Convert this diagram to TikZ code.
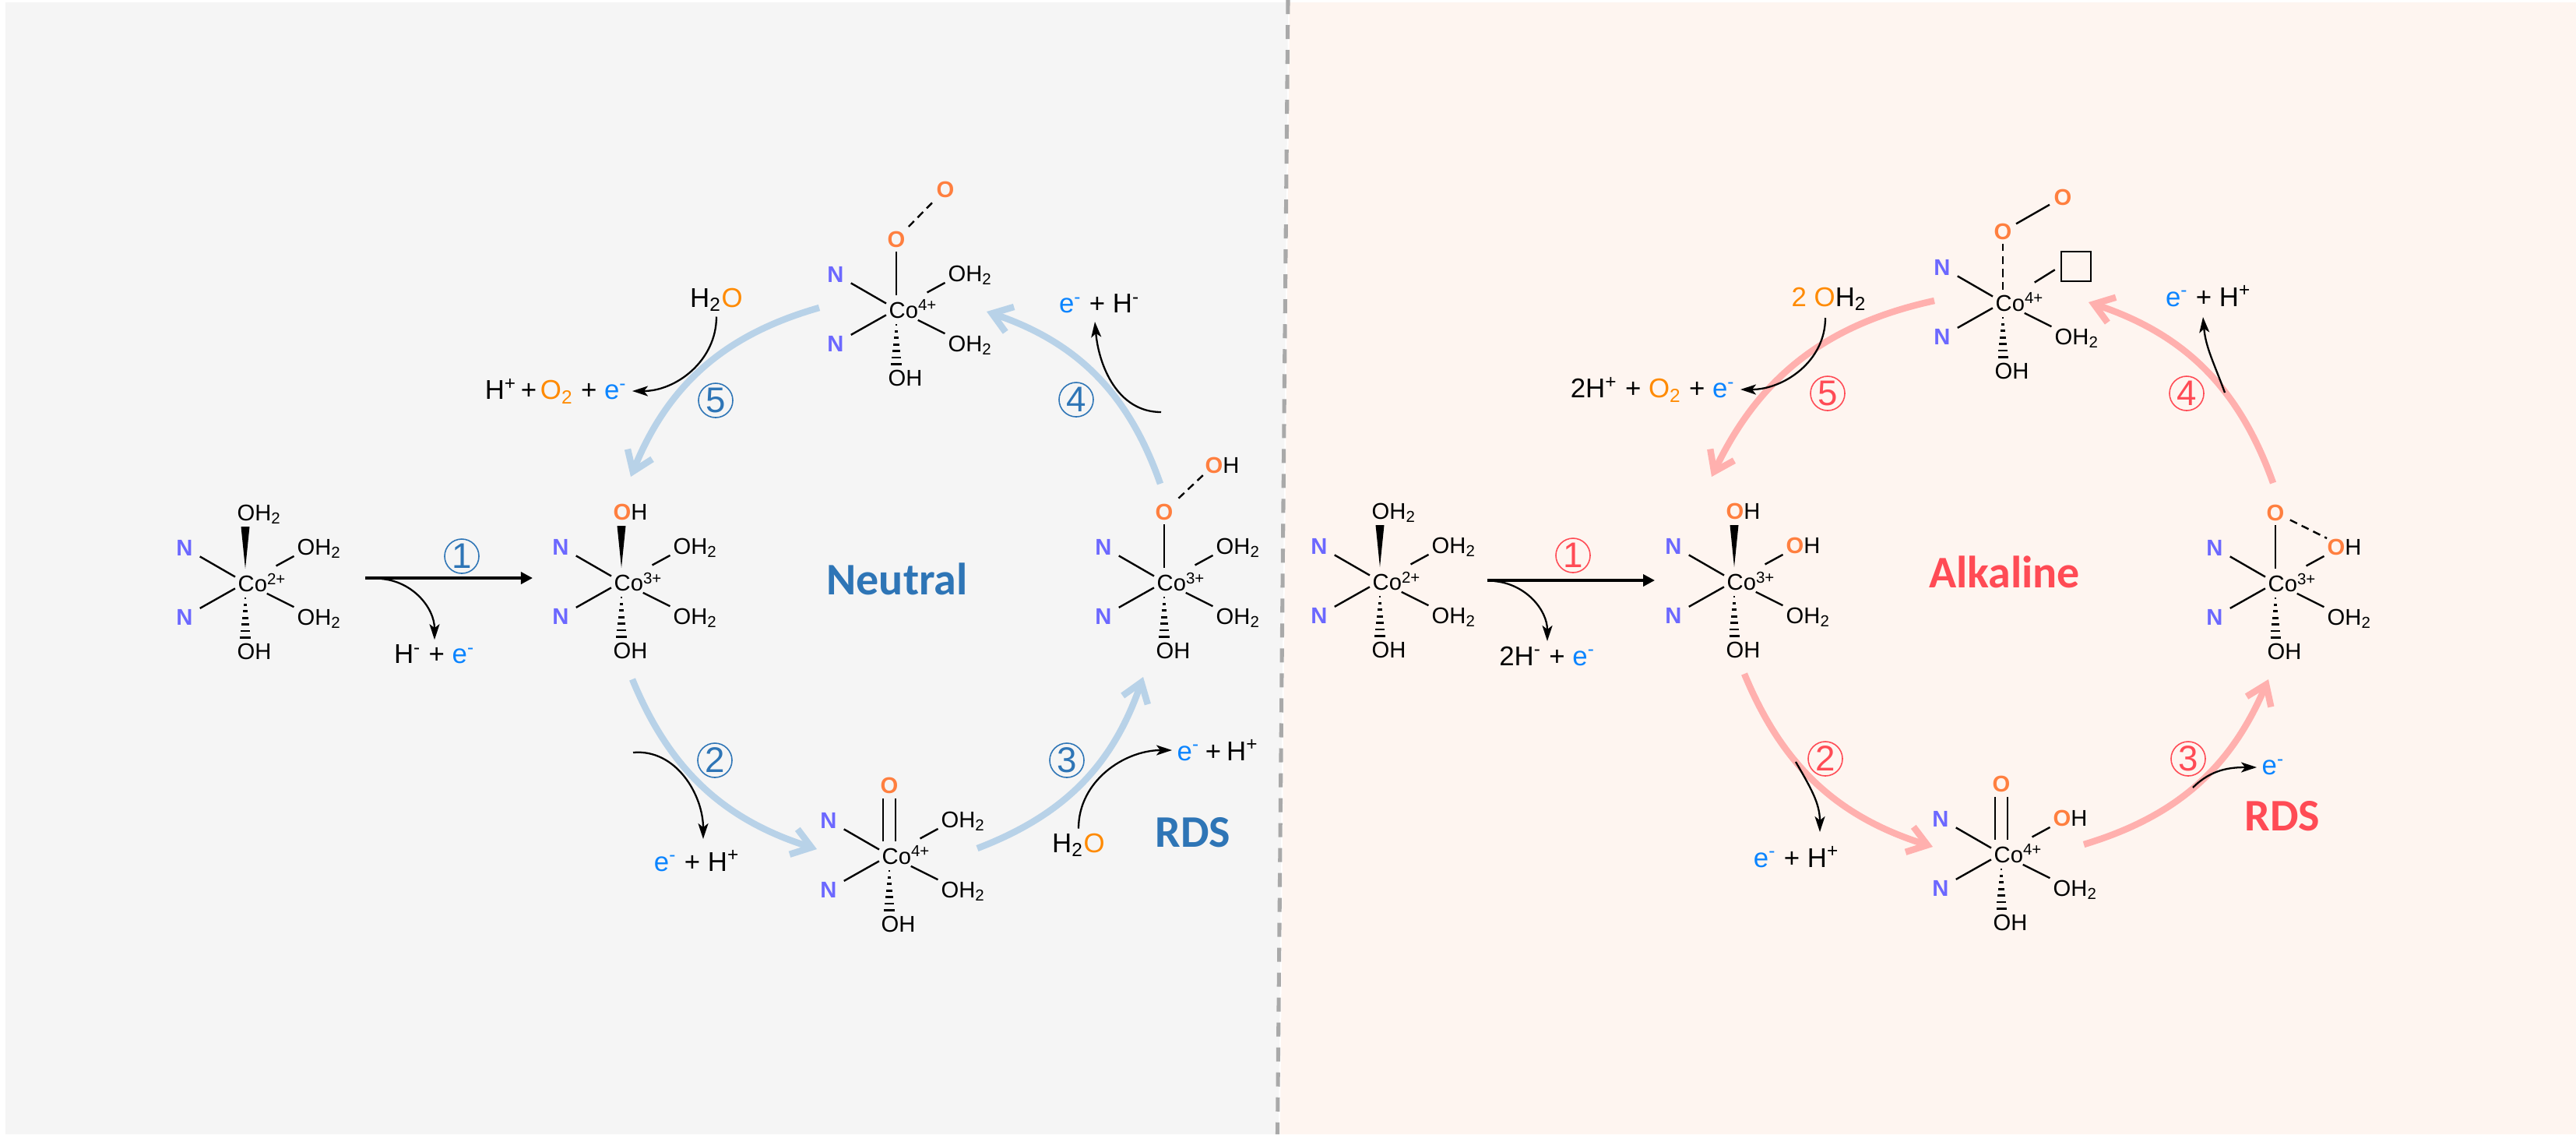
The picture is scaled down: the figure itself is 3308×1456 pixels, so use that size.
\documentclass[tikz,border=0pt]{standalone}
\usepackage{fontspec}
\setmainfont{Liberation Sans}
\newfontfamily\headfont{Carlito}
\usetikzlibrary{arrows.meta,calc}

\definecolor{leftbg}{HTML}{F5F5F5}
\definecolor{rightbg}{HTML}{FEF5F0}
\definecolor{divider}{HTML}{A9A9A9}
\definecolor{bluearc}{HTML}{B8D2E8}
\definecolor{redarc}{HTML}{FFB0AE}
\definecolor{bluehead}{HTML}{2E75B6}
\definecolor{redhead}{HTML}{FF4B55}
\definecolor{nitro}{HTML}{6C68FF}
\definecolor{oxy}{HTML}{FF7F3F}
\definecolor{water}{HTML}{FF8A00}
\definecolor{elec}{HTML}{0A84FF}

\newcommand{\ox}{\textcolor{oxy}{\textbf{O}}}
\newcommand{\wo}{\textcolor{water}{O}}
\newcommand{\el}{\textcolor{elec}{e\textsuperscript{-}}}

\tikzset{
    bond/.style={line width=0.68pt},
    dashbond/.style={line width=0.68pt,dash pattern=on 0.1cm off 0.065cm},
    hatchbar/.style={line width=0.8pt},
    atom/.style={inner sep=0pt,font=\fontsize{8.3}{10}\selectfont},
    nitrogen/.style={inner sep=0.085cm,text=nitro,font=\fontsize{8.3}{10}\selectfont\bfseries},
    oxtop/.style={inner sep=0.05cm,font=\fontsize{8.3}{10}\selectfont},
    species/.style={inner sep=0.06cm,font=\fontsize{9.9}{12}\selectfont},
    cyclearc/.style={line width=2.4pt,-{Straight Barb[length=0.24cm,width=0.34cm]}},
    sidearrow/.style={line width=0.65pt,-{Stealth[length=0.2cm,width=0.13cm,inset=0.05cm]}},
    mainarrow/.style={line width=1pt,-{Triangle[length=0.15cm,width=0.15cm]}},
    headline/.style={font=\headfont\bfseries\fontsize{16.5}{20}\selectfont},
    ringmark/.style={circle,draw,line width=0.45pt,inner sep=0pt,minimum size=0.44cm,font=\fontsize{13}{14}\selectfont},
}

% Co centre with N, N, OH2 and OH around it, #5 is the upper right ligand
\newcommand{\cocomplex}[5]{
    \begin{scope}[shift={(#2,#3)}]
        \coordinate (#1c) at (-8,0);
        \node[atom,anchor=west] (#1co) at (-18,0) {Co\textsuperscript{#4}};
        \node[nitrogen] (#1nu) at (-86,-45) {N};
        \node[nitrogen] (#1nd) at (-86,44) {N};
        \node[atom,anchor=base west] (#1ur) at (58,-36) {#5};
        \node[atom,anchor=north west] (#1dr) at (58,33) {OH\textsubscript{2}};
        \node[atom,anchor=north west] (#1bt) at (-19,77) {OH};
        \draw[bond,shorten <=0.15cm] (#1c) -- (#1nu);
        \draw[bond,shorten <=0.15cm] (#1c) -- (#1nd);
        \draw[bond,shorten <=0.45cm,shorten >=0.04cm] (#1c) -- (#1ur.base west);
        \draw[bond,shorten <=0.31cm,shorten >=0.04cm] (#1c) -- (#1dr.north west);
        \foreach \i in {0,...,6} {
            \draw[hatchbar] ({-8-1-0.92*\i},{20+8.4*\i}) -- ({-8+1+0.92*\i},{20+8.4*\i});
        }
    \end{scope}
}
% wedge bond with a ligand on top
\newcommand{\wedgetop}[2]{
    \node[atom,anchor=base west] (#1tp) at ($(#1c)+(-11,-80)$) {#2};
    \fill ($(#1c)+(0,-18)$) -- ($(#1c)+(-5.5,-72)$) -- ($(#1c)+(5.5,-72)$) -- cycle;
}
% O on top, with a plain bond
\newcommand{\oxygentop}[1]{
    \node[oxtop] (#1tp) at ($(#1c)+(0,-90)$) {\ox};
    \draw[bond,shorten <=0.18cm] (#1c) -- (#1tp);
}
% O on top, with a double bond
\newcommand{\doubletop}[1]{
    \node[oxtop] (#1tp) at ($(#1c)+(0,-90)$) {\ox};
    \draw[bond] ($(#1c)+(-8,-18)$) -- ($(#1c)+(-8,-73)$);
    \draw[bond] ($(#1c)+(8,-18)$) -- ($(#1c)+(8,-73)$);
}

\begin{document}
\begin{tikzpicture}[x=0.01cm,y=-0.01cm]
    \useasboundingbox (0,0) rectangle (3308,1456);

    % the two panels and the line between them
    \fill[leftbg] (7,3) -- (1654,3) -- (1642,1456) -- (7,1456) -- cycle;
    \fill[rightbg] (1656,3) -- (3308,3) -- (3308,1456) -- (1644,1456) -- cycle;
    \coordinate (divtop) at (1654,0);
    \coordinate (divbot) at (1640.5,1456);
    \draw[divider,line width=1.45pt,dash pattern=on 0.18cm off 0.14cm] (divtop) -- (divbot);

    % cycle arcs, neutral
    \foreach \name/\ax/\ay/\bx/\by/\bend in {
        nb/1052/395/810/612/26, nc/812/872/1049/1090/25,
        nd/1255/1089/1468/869/25, ne/1490/621/1267/400/26} {
        \coordinate (\name a) at (\ax,\ay);
        \coordinate (\name b) at (\bx,\by);
        \draw[cyclearc,bluearc] (\name a) to[bend right=\bend] (\name b);
    }
    % cycle arcs, alkaline
    \foreach \name/\ax/\ay/\bx/\by/\bend in {
        ab/2484/386/2198/612/26, ac/2240/865/2482/1087/25,
        ad/2676/1084/2913/872/25, ae/2919/620/2682/388/26} {
        \coordinate (\name a) at (\ax,\ay);
        \coordinate (\name b) at (\bx,\by);
        \draw[cyclearc,redarc] (\name a) to[bend right=\bend] (\name b);
    }

    % neutral side
    \cocomplex{ma}{323}{748}{2+}{OH\textsubscript{2}}
    \wedgetop{ma}{OH\textsubscript{2}}
    \cocomplex{mb}{806}{747}{3+}{OH\textsubscript{2}}
    \wedgetop{mb}{\ox H}
    \cocomplex{mc}{1150}{1098}{4+}{OH\textsubscript{2}}
    \doubletop{mc}
    \cocomplex{md}{1503}{747}{3+}{OH\textsubscript{2}}
    \oxygentop{md}
    \node[atom,anchor=west] (mdo) at (1547,597) {\ox H};
    \draw[dashbond,shorten <=0.02cm,shorten >=0.01cm] (mdtp) -- (mdo.south west);
    \cocomplex{me}{1159}{397}{4+}{OH\textsubscript{2}}
    \oxygentop{me}
    \node[oxtop] (meo) at (1214,243) {\ox};
    \draw[dashbond] (metp) -- (meo);

    % alkaline side
    \cocomplex{mf}{1780}{746}{2+}{OH\textsubscript{2}}
    \wedgetop{mf}{OH\textsubscript{2}}
    \cocomplex{mg}{2235}{746}{3+}{\ox H}
    \wedgetop{mg}{\ox H}
    \cocomplex{mh}{2578}{1096}{4+}{\ox H}
    \doubletop{mh}
    \cocomplex{mi}{2930}{748}{3+}{\ox H}
    \oxygentop{mi}
    \draw[dashbond,shorten <=0.02cm] (mitp) -- (miur.north west);
    % top complex on the right has an empty site instead of a ligand
    \begin{scope}[shift={(2580,388)}]
        \coordinate (mjc) at (-8,0);
        \node[atom,anchor=west] (mjco) at (-18,0) {Co\textsuperscript{4+}};
        \node[nitrogen] (mjnu) at (-86,-45) {N};
        \node[nitrogen] (mjnd) at (-86,44) {N};
        \node[atom,anchor=north west] (mjdr) at (58,33) {OH\textsubscript{2}};
        \node[atom,anchor=north west] (mjbt) at (-19,77) {OH};
        \node[draw,line width=0.8pt,minimum width=0.38cm,minimum height=0.38cm,inner sep=0pt] (mjur) at (86,-46) {};
        \node[oxtop] (mjtp) at (-8,-91) {\ox};
        \node[oxtop] (mjo) at (69,-135) {\ox};
        \draw[bond,shorten <=0.15cm] (mjc) -- (mjnu);
        \draw[bond,shorten <=0.15cm] (mjc) -- (mjnd);
        \draw[bond,shorten <=0.31cm,shorten >=0.04cm] (mjc) -- (mjdr.north west);
        \draw[bond,shorten <=0.48cm,shorten >=0.08cm] (mjc) -- (mjur.west);
        \draw[dashbond,shorten <=0.16cm] (mjc) -- (mjtp);
        \draw[bond] (mjtp) -- (mjo);
        \foreach \i in {0,...,6} {
            \draw[hatchbar] ({-8-1-0.92*\i},{20+8.4*\i}) -- ({-8+1+0.92*\i},{20+8.4*\i});
        }
    \end{scope}

    % feeds and products, neutral
    \coordinate (fa) at (469,742);
    \coordinate (ga) at (684,742);
    \draw[mainarrow] (fa) -- (ga);
    \node[species] (pa) at (558,840) {H\textsuperscript{-} + \el};
    \coordinate (sa) at (490,743);
    \draw[sidearrow] (sa) to[out=-5,in=90] (pa);
    \coordinate (sb) at (813,966);
    \coordinate (tb) at (903,1077);
    \node[species] (pb) at (895,1105) {\el{} + H\textsuperscript{+}};
    \draw[sidearrow] (sb) to[out=5,in=90] (tb);
    \node[species] (wc) at (1385,1085) {H\textsubscript{2}\wo};
    \node[species,anchor=west] (pc) at (1505,963) {\el{}\hspace{0.2em}+\hspace{0.2em}H\textsuperscript{+}};
    \draw[sidearrow] (wc) to[out=90,in=180] (pc);
    \coordinate (sd) at (1491,529);
    \coordinate (td) at (1406,413);
    \node[species] (pd) at (1412,390) {\el{} + H\textsuperscript{-}};
    \draw[sidearrow] (sd) to[out=180,in=-85] (td);
    \node[species] (we) at (920,385) {H\textsubscript{2}\wo};
    \node[species,anchor=east] (pe) at (812,502) {H\textsuperscript{+}\hspace{0.14em}+\hspace{0.14em}\textcolor{water}{O\textsubscript{2}} + \el};
    \draw[sidearrow] (we) to[out=-90,in=0] (pe);

    % feeds and products, alkaline
    \coordinate (ff) at (1910,745);
    \coordinate (gf) at (2125,745);
    \draw[mainarrow] (ff) -- (gf);
    \node[species] (pf) at (1987,842) {2H\textsuperscript{-} + \el};
    \coordinate (sf) at (1919,746);
    \draw[sidearrow] (sf) to[out=-5,in=90] (pf);
    \coordinate (sg) at (2306,978);
    \coordinate (tg) at (2337,1068);
    \node[species] (pg) at (2307,1100) {\el{} + H\textsuperscript{+}};
    \draw[sidearrow] (sg) to[out=-60,in=90] (tg);
    \coordinate (sh) at (2816,1011);
    \node[species,anchor=west] (ph) at (2898,985) {\el};
    \draw[sidearrow] (sh) to[out=45,in=180] (ph);
    \coordinate (si) at (2857,504);
    \coordinate (ti) at (2829,407);
    \node[species] (pi) at (2836,380) {\el{} + H\textsuperscript{+}};
    \draw[sidearrow] (si) to[out=110,in=-85] (ti);
    \coordinate (sj) at (2344,408);
    \node[species] (wj) at (2349,384) {\textcolor{water}{2 O}H\textsubscript{2}};
    \node[species,anchor=east] (pj) at (2235,500) {2H\textsuperscript{+} + \textcolor{water}{O\textsubscript{2}} + \el};
    \draw[sidearrow] (sj) to[out=-90,in=0] (pj);

    % step numbers
    \foreach \name/\x/\y/\step in {
        ra/593/714/1, rb/918/976/2, rc/1370/976/3, rd/1382/513/4, re/919/514/5} {
        \node[ringmark,draw=bluehead,text=bluehead] (\name) at (\x,\y) {\step};
    }
    \foreach \name/\x/\y/\step in {
        rf/2020/713/1, rg/2344/974/2, rh/2810/974/3, ri/2808/505/4, rj/2347/505/5} {
        \node[ringmark,draw=redhead,text=redhead] (\name) at (\x,\y) {\step};
    }

    % headings
    \node[headline,text=bluehead] (neutral) at (1152,743) {Neutral};
    \node[headline,text=bluehead] (rdsn) at (1532,1069) {RDS};
    \node[headline,text=redhead] (alkaline) at (2574,734) {Alkaline};
    \node[headline,text=redhead] (rdsa) at (2931,1048) {RDS};
\end{tikzpicture}
\end{document}
